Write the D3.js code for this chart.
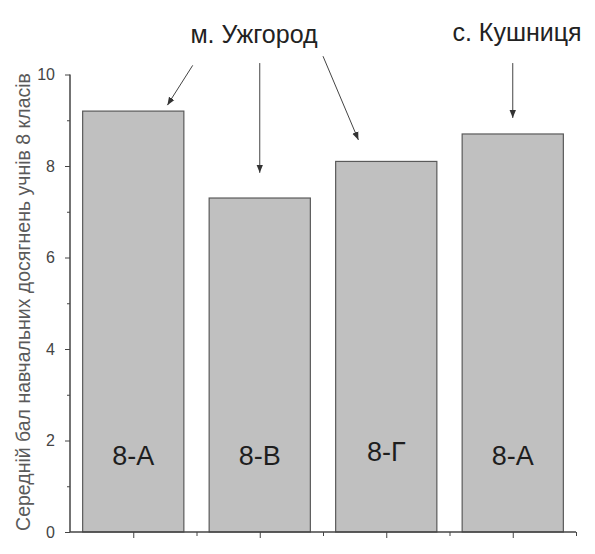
<!DOCTYPE html>
<html>
<head>
<meta charset="utf-8">
<script src="https://cdn.jsdelivr.net/npm/d3@7"></script>
<style>
    body { margin: 0; background: #fff; }
    #chart { width: 595px; height: 554px; }
    .axis path, .axis line { stroke: #444; }
    .axis text { fill: #444; font-family: Arial, "Liberation Sans", sans-serif; }
</style>
</head>
<body>
<div id="chart"></div>
<script>
// chart data
const classes = ["8-А", "8-В", "8-Г", "8-А"];
const scores = [9.2, 7.3, 8.1, 8.7];
const yMajorTicks = [0, 2, 4, 6, 8, 10];
const yMinorTicks = [1, 3, 5, 7, 9];
const yTitle = "Середній бал навчальних досягнень учнів 8 класів";

// annotations (arrow start / tip in data units)
const towns = ["м. Ужгород", "с. Кушниця"];
const arrows = [
    {town: 0, x0: 1.47, y0: 10.2, x1: 1.27, y1: 9.33},
    {town: 0, x0: 2.0, y0: 10.25, x1: 2.0, y1: 7.85},
    {town: 0, x0: 2.5, y0: 10.4, x1: 2.78, y1: 8.57},
    {town: 1, x0: 4.0, y0: 10.25, x1: 4.0, y1: 9.05}
];

const margin = {top: 0, left: 70};
const width = 595, height = 554;

const svg = d3.select("#chart").append("svg")
    .attr("width", width)
    .attr("height", height);

const x = d3.scaleLinear().domain([0.5, 4.5]).range([70, 576]);
const y = d3.scaleLinear().domain([0, 10]).range([532, 74.5]);

const step = x(2) - x(1);
const barW = step * 0.8;

// bars
svg.append("g").selectAll("rect")
    .data(scores)
    .enter()
    .append("rect")
    .attr("x", (d, i) => x(i + 1) - barW / 2)
    .attr("y", d => y(d))
    .attr("width", barW)
    .attr("height", d => y(0) - y(d))
    .attr("fill", "#c0c0c0")
    .attr("stroke", "#5a5a5a")
    .attr("stroke-width", 1.2);

// bar labels
svg.append("g").selectAll("text")
    .data(classes)
    .enter()
    .append("text")
    .attr("x", (d, i) => x(i + 1))
    .attr("y", (d, i) => i == 2 ? 461 : 465)
    .attr("text-anchor", "middle")
    .attr("font-family", "Arial, 'Liberation Sans', sans-serif")
    .attr("font-size", 27)
    .attr("fill", "#1e1e1e")
    .text(d => d);

// axes
const yAxis = d3.axisLeft(y).tickValues(yMajorTicks).tickSize(5).tickPadding(10).tickFormat(d3.format("d"));
const yMinor = d3.axisLeft(y).tickValues(yMinorTicks).tickSize(3).tickFormat("");

svg.append("g")
    .attr("class", "y-axis axis")
    .attr("transform", `translate(${margin.left},0)`)
    .call(yAxis)
    .call(g => g.select(".domain").attr("d", `M0,${y(10)}V${y(0)}`).attr("stroke-width", 1.5))
    .selectAll("text").attr("font-size", 16).attr("fill", "#555");

svg.append("g")
    .attr("class", "axis")
    .attr("transform", `translate(${margin.left},0)`)
    .call(yMinor)
    .select(".domain").remove();

const xAxis = d3.axisBottom(x).tickValues([1, 2, 3, 4]).tickSize(6).tickFormat("");
const xMinor = d3.axisBottom(x).tickValues([1.5, 2.5, 3.5, 4.5]).tickSize(4).tickFormat("");

svg.append("g")
    .attr("class", "x-axis axis")
    .attr("transform", `translate(0,${y(0)})`)
    .call(xAxis)
    .call(g => g.select(".domain").attr("d", `M${x(0.5)},0H${x(4.5)}`).attr("stroke-width", 1.5));

svg.append("g")
    .attr("class", "axis")
    .attr("transform", `translate(0,${y(0)})`)
    .call(xMinor)
    .select(".domain").remove();

// y title
svg.append("text")
    .attr("transform", `translate(30, 302) rotate(-90)`)
    .attr("text-anchor", "middle")
    .attr("font-family", "Arial, 'Liberation Sans', sans-serif")
    .attr("font-size", 19.5)
    .attr("fill", "#5a5a5a")
    .text(yTitle);

// arrow marker
svg.append("defs").append("marker")
    .attr("id", "arrow")
    .attr("viewBox", "0 0 10 10")
    .attr("refX", 10).attr("refY", 5)
    .attr("markerWidth", 8).attr("markerHeight", 8)
    .attr("markerUnits", "userSpaceOnUse")
    .attr("orient", "auto")
    .append("path")
    .attr("d", "M0,1L10,5L0,9Z")
    .attr("fill", "#333");

svg.append("g").selectAll("line")
    .data(arrows)
    .enter()
    .append("line")
    .attr("x1", d => x(d.x0))
    .attr("y1", d => y(d.y0))
    .attr("x2", d => x(d.x1))
    .attr("y2", d => y(d.y1))
    .attr("stroke", "#444")
    .attr("stroke-width", 1)
    .attr("marker-end", "url(#arrow)");

// town labels
svg.append("text")
    .attr("x", 254).attr("y", 43)
    .attr("text-anchor", "middle")
    .attr("font-family", "Arial, 'Liberation Sans', sans-serif")
    .attr("font-size", 25)
    .attr("fill", "#222")
    .text(towns[0]);

svg.append("text")
    .attr("x", 517).attr("y", 41)
    .attr("text-anchor", "middle")
    .attr("font-family", "Arial, 'Liberation Sans', sans-serif")
    .attr("font-size", 25)
    .attr("fill", "#222")
    .text(towns[1]);
</script>
</body>
</html>
